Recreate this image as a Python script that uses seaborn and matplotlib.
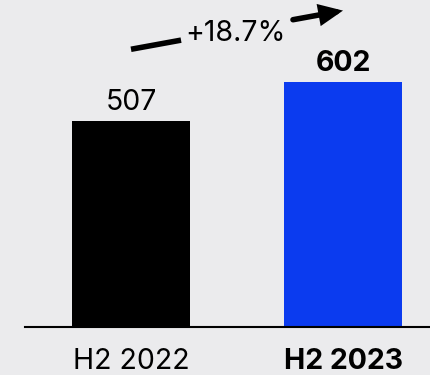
import matplotlib
matplotlib.use("Agg")
import matplotlib.pyplot as plt
import seaborn as sns
import numpy as np

# Data
periods = ["H2 2022", "H2 2023"]
values = [507, 602]
bar_colors = ["#000000", "#0b3bef"]

BG = "#ebebed"
FONT = "Inter"
FS = 20.5

sns.set_theme(style="white")
plt.rcParams["font.family"] = [FONT, "DejaVu Sans"]

fig = plt.figure(figsize=(4.31, 3.75), dpi=100, facecolor=BG)
ax = fig.add_axes([25 / 431, 48 / 375, 406 / 431, 327 / 375])
ax.set_facecolor(BG)

sns.barplot(x=periods, y=values, hue=periods, palette=bar_colors,
            width=0.557, legend=False, saturation=1, linewidth=0,
            edgecolor="none", ax=ax)

ax.set_xlim(-0.5, 1.415)
ax.set_ylim(0, 803)

# Value labels above bars
for i, v in enumerate(values):
    ax.annotate(f"{v}", xy=(i, v), xytext=(0, 7.5), textcoords="offset points",
                ha="center", va="baseline", fontsize=FS, color="black",
                fontweight="bold" if i == len(values) - 1 else "normal")

# Growth arrow between the two bars
offset = 175
x0, y0 = 0.0, values[0] + offset
x1, y1 = 1.0, values[1] + offset

def along(t):
    return x0 + (x1 - x0) * t, y0 + (y1 - y0) * t

gap_a, gap_b = 0.236, 0.764
sa = along(gap_a)
ax.plot([x0, sa[0]], [y0, sa[1]], color="black", lw=4, solid_capstyle="butt")
sb = along(gap_b)
ax.annotate("", xy=(x1, y1), xytext=sb,
            arrowprops=dict(arrowstyle="-|>,head_length=1.1,head_width=0.5",
                            mutation_scale=10, lw=4, color="black",
                            shrinkA=0, shrinkB=0, joinstyle="miter"))

growth = (values[1] - values[0]) / values[0] * 100
mid = along(0.5)
ax.text(0.495, mid[1] - 8, f"+{growth:.1f}%", ha="center", va="center",
        fontsize=FS, color="black")

# Axes styling
sns.despine(ax=ax, left=True, top=True, right=True)
ax.spines["bottom"].set_color("black")
ax.spines["bottom"].set_linewidth(1.5)
ax.set_yticks([])
ax.set_ylabel("")
ax.set_xlabel("")
ax.tick_params(axis="x", length=0, pad=15, labelsize=FS, labelcolor="black")
labels = ax.get_xticklabels()
labels[-1].set_fontweight("bold")

fig.savefig("out.png", dpi=100, facecolor=BG)
